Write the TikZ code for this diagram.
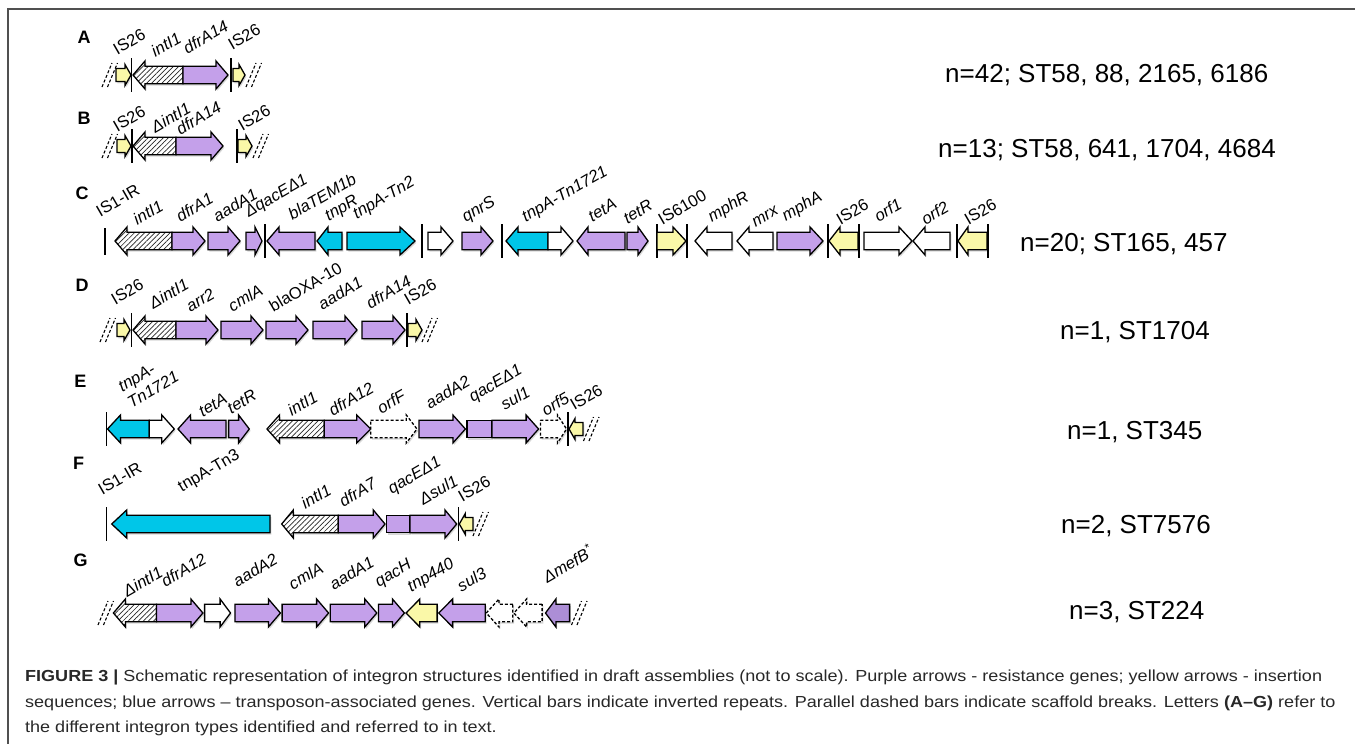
\documentclass[tikz,border=0pt]{standalone}
\usepackage{fontspec}
\setmainfont{Liberation Sans}
\usepackage{graphicx}
\usetikzlibrary{patterns.meta,shadows}

\definecolor{gpurple}{RGB}{196,160,234}
\definecolor{gdpurple}{RGB}{172,142,214}
\definecolor{gcyan}{RGB}{0,198,232}
\definecolor{gyellow}{RGB}{250,248,168}
\definecolor{framegray}{RGB}{80,80,80}
\definecolor{capgray}{RGB}{40,40,40}

\newcommand{\gsh}{8.8}
\newcommand{\ghh}{14}
% right-pointing gene arrow: start, tip, y, head length, style
\newcommand{\geneR}[5]{\draw[gene,#5] (#1,{#3-\gsh}) -- ({#2-#4},{#3-\gsh}) -- ({#2-#4},{#3-\ghh}) -- (#2,#3) -- ({#2-#4},{#3+\ghh}) -- ({#2-#4},{#3+\gsh}) -- (#1,{#3+\gsh}) -- cycle;}
% left-pointing gene arrow: tip, end, y, head length, style
\newcommand{\geneL}[5]{\draw[gene,#5] (#2,{#3-\gsh}) -- ({#1+#4},{#3-\gsh}) -- ({#1+#4},{#3-\ghh}) -- (#1,#3) -- ({#1+#4},{#3+\ghh}) -- ({#1+#4},{#3+\gsh}) -- (#2,{#3+\gsh}) -- cycle;}
\newcommand{\genebox}[4]{\draw[gene,#4] (#1,{#3-\gsh}) rectangle (#2,{#3+\gsh});}
% small insertion-sequence arrows
\newcommand{\gisR}[3]{\draw[gene,fill=gyellow] (#1,{#3-6.5}) -- ({#2-6},{#3-6.5}) -- ({#2-6},{#3-10.5}) -- (#2,#3) -- ({#2-6},{#3+10.5}) -- ({#2-6},{#3+6.5}) -- (#1,{#3+6.5}) -- cycle;}
\newcommand{\gisL}[3]{\draw[gene,fill=gyellow] (#2,{#3-6.5}) -- ({#1+6},{#3-6.5}) -- ({#1+6},{#3-10.5}) -- (#1,#3) -- ({#1+6},{#3+10.5}) -- ({#1+6},{#3+6.5}) -- (#2,{#3+6.5}) -- cycle;}
% inverted repeat bar
\newcommand{\girb}[2]{\draw[irbar] (#1,{#2-17}) -- (#1,{#2+17});}
% scaffold break
\newcommand{\gbrk}[2]{\draw[brkline] (#1,{#2+12}) -- ({#1+10},{#2-12}); \draw[brkline] ({#1+5.5},{#2+12}) -- ({#1+15.5},{#2-12});}
% labels
\newcommand{\glab}[4]{\node[glabel] (#1) at (#2,{#3-2.5}) {#4};}
\newcommand{\glabr}[4]{\node[glabel,font=\fontsize{16.5}{18.5}\selectfont] (#1) at (#2,{#3-2.5}) {#4};}

\newlength{\caplen}
\newcommand{\capfont}{\fontsize{16}{19}\selectfont}
\newcommand{\capone}{\textbf{FIGURE 3 |} Schematic representation of integron structures identified in draft assemblies (not to scale). Purple arrows - resistance genes; yellow arrows - insertion}

\begin{document}
\settowidth{\caplen}{\capfont\capone}
\pgfmathsetmacro{\capsx}{1297/\caplen}
\begin{tikzpicture}[x=1pt,y=-1pt,
  gene/.style={draw=black, line width=1.3pt, line join=miter,
    drop shadow={shadow xshift=1.3pt, shadow yshift=-1.8pt, opacity=0.22, fill=black!70}},
  hatch/.style={preaction={fill=white}, pattern={Lines[angle=45,distance=3.6pt,line width=0.7pt]}, pattern color=black!85},
  dashedgene/.style={fill=white, dash pattern=on 3pt off 2pt},
  irbar/.style={draw=black, line width=1.3pt},
  brkline/.style={draw=black, line width=1.1pt, dash pattern=on 3pt off 2pt},
  glabel/.style={anchor=south west, rotate=30, inner sep=0pt, font=\fontsize{16.5}{18.5}\selectfont\itshape},
  rowletter/.style={inner sep=0pt, font=\bfseries\fontsize{18}{20}\selectfont},
  stat/.style={anchor=base west, inner sep=0pt, font=\fontsize{26}{30}\selectfont},
  capline/.style={anchor=base west, inner sep=0pt, text=capgray}
]
\fill[white] (0,0) rectangle (1355,744);
\useasboundingbox (0,0) rectangle (1355,744);
\draw[framegray, line width=1.5pt] (1356,9) -- (8,9) -- (8,745);

% ---------------- Row A ----------------
\node[rowletter] (letA) at (84,37) {A};
\gbrk{102}{75}
\gisR{116}{131}{75}
\girb{131.7}{75}
\geneL{133}{183}{75}{12}{hatch}
\geneR{183}{228}{75}{12}{fill=gpurple}
\girb{231}{75}
\gisR{233}{245}{75}
\gbrk{246}{75}
\glabr{lA1}{117.5}{58}{IS26}
\glab{lA2}{155.5}{60}{intI1}
\glab{lA3}{187.5}{57}{dfrA14}
\glabr{lA4}{232.5}{53}{IS26}
\node[stat] (sA) at (945,82.3) {n=42; ST58, 88, 2165, 6186};

% ---------------- Row B ----------------
\node[rowletter] (letB) at (84,118) {B};
\gbrk{102}{146}
\gisR{117}{131}{146}
\girb{132}{146}
\geneL{133}{176}{146}{12}{hatch}
\geneR{176}{223}{146}{12}{fill=gpurple}
\girb{237}{146}
\gisR{238}{252}{146}
\gbrk{253}{146}
\glabr{lB1}{117.5}{135}{IS26}
\glab{lB2}{155.5}{136}{ΔintI1}
\glab{lB3}{180.5}{138}{dfrA14}
\glabr{lB4}{242.5}{134}{IS26}
\node[stat] (sB) at (938,157.3) {n=13; ST58, 641, 1704, 4684};

% ---------------- Row C ----------------
\node[rowletter] (letC) at (82,193) {C};
\draw[irbar] (105,228) -- (105,255);
\geneL{115}{172}{241}{12}{hatch}
\geneR{172}{205}{241}{12}{fill=gpurple}
\geneR{208}{240}{241}{12}{fill=gpurple}
\geneR{246}{262}{241}{7}{fill=gpurple}
\girb{265}{241}
\geneL{267}{315}{241}{12}{fill=gpurple}
\geneL{317}{342}{241}{11}{fill=gcyan}
\geneR{347}{415}{241}{15}{fill=gcyan}
\girb{422}{241}
\geneR{428}{453}{241}{12}{fill=white}
\geneR{462}{493}{241}{12}{fill=gpurple}
\girb{502}{241}
\geneL{506}{548}{241}{12}{fill=gcyan}
\geneR{548}{573}{241}{12}{fill=white}
\geneL{577}{625}{241}{11}{fill=gpurple}
\geneR{627}{648}{241}{10}{fill=gpurple}
\girb{657}{241}
\geneR{657}{686}{241}{13}{fill=gyellow}
\girb{687}{241}
\geneL{695}{732}{241}{12}{fill=white}
\geneL{737}{773}{241}{12}{fill=white}
\geneR{777}{823}{241}{13}{fill=gpurple}
\girb{828}{241}
\geneL{829}{858}{241}{11}{fill=gyellow}
\girb{859}{241}
\geneR{864}{912}{241}{13}{fill=white}
\geneL{913}{950}{241}{12}{fill=white}
\girb{957}{241}
\geneL{958}{987}{241}{10}{fill=gyellow}
\girb{988}{241}
\glabr{lC1}{100.5}{220}{IS1-IR}
\glab{lC2}{137.5}{228}{intI1}
\glab{lC3}{180.5}{225}{dfrA1}
\glab{lC4}{217.5}{225}{aadA1}
\glab{lC5}{250.5}{223}{ΔqacEΔ1}
\glab{lC6}{292.5}{223}{blaTEM1b}
\glab{lC7}{330.5}{227}{tnpR}
\glab{lC8}{358.5}{225}{tnpA-Tn2}
\glab{lC9}{467.5}{228}{qnrS}
\glab{lC10}{527.5}{228}{tnpA-Tn1721}
\glab{lC11}{592.5}{225}{tetA}
\glab{lC12}{627.5}{227}{tetR}
\glabr{lC13}{662.5}{228}{IS6100}
\glab{lC14}{713.5}{228}{mphR}
\glab{lC15}{755.5}{230}{mrx}
\glab{lC16}{787.5}{227}{mphA}
\glabr{lC17}{840.5}{228}{IS26}
\glab{lC18}{878.5}{225}{orf1}
\glab{lC19}{925.5}{228}{orf2}
\glabr{lC20}{968.5}{228}{IS26}
\node[stat] (sC) at (1020,251.3) {n=20; ST165, 457};

% ---------------- Row D ----------------
\node[rowletter] (letD) at (82,285) {D};
\gbrk{100}{330}
\gisR{117}{130}{330}
\girb{131.7}{330}
\geneL{133}{176}{330}{12}{hatch}
\geneR{176}{218}{330}{12}{fill=gpurple}
\geneR{221}{263}{330}{12}{fill=gpurple}
\geneR{266}{308}{330}{12}{fill=gpurple}
\geneR{313}{357}{330}{12}{fill=gpurple}
\geneR{362}{405}{330}{12}{fill=gpurple}
\girb{407}{330}
\gisR{408}{422}{330}
\gbrk{422}{330}
\glabr{lD1}{115.5}{308}{IS26}
\glab{lD2}{153.5}{312}{ΔintI1}
\glab{lD3}{190.5}{315}{arr2}
\glab{lD4}{232.5}{315}{cmlA}
\glabr{lD5}{273.5}{315}{blaOXA-10}
\glab{lD6}{322.5}{313}{aadA1}
\glab{lD7}{370.5}{312}{dfrA14}
\glabr{lD8}{408.5}{308}{IS26}
\node[stat] (sD) at (1060,339.3) {n=1, ST1704};

% ---------------- Row E ----------------
\node[rowletter] (letE) at (80.5,381.5) {E};
\girb{106.4}{429}
\geneL{107.5}{149.3}{429}{13}{fill=gcyan}
\geneR{149.3}{174.3}{429}{12.5}{fill=white}
\geneL{178}{226}{429}{12.5}{fill=gpurple}
\geneR{228.6}{249.3}{429}{10.7}{fill=gpurple}
\geneL{267}{324.3}{429}{12.5}{hatch}
\geneR{324.3}{370.7}{429}{14}{fill=gpurple}
\geneR{370.7}{417}{429}{10.7}{dashedgene}
\geneR{419}{465.4}{429}{12.5}{fill=gpurple}
\genebox{467}{492}{429}{fill=gpurple}
\geneR{492}{538.6}{429}{12.5}{fill=gpurple}
\geneR{540.4}{566.5}{429}{9}{dashedgene}
\girb{568}{429}
\gisL{569}{583}{429}
\gbrk{583.5}{429}
\node[glabel, align=left] (lE1) at (131.5,408.5) {tnpA-\\Tn1721};
\glab{lE2}{203}{420}{tetA}
\glab{lE3}{231.5}{417}{tetR}
\glab{lE4}{292}{419}{intI1}
\glab{lE5}{333}{419}{dfrA12}
\glab{lE6}{381.5}{417}{orfF}
\glab{lE7}{430}{412}{aadA2}
\glab{lE8}{474.5}{408}{qacEΔ1}
\glab{lE9}{505}{413.6}{sul1}
\glab{lE10}{546}{419}{orf5}
\glabr{lE11}{574.5}{413.6}{IS26}
\node[stat] (sE) at (1067,439.3) {n=1, ST345};

% ---------------- Row F ----------------
\node[rowletter] (letF) at (78.5,463) {F};
\girb{106.7}{524}
\geneL{111.7}{270}{524}{15}{fill=gcyan}
\geneL{281.7}{338.3}{524}{11.6}{hatch}
\geneR{338.3}{385}{524}{11.7}{fill=gpurple}
\genebox{386.7}{410}{524}{fill=gpurple}
\geneR{410}{456.7}{524}{11.7}{fill=gpurple}
\girb{458.3}{524}
\gisL{459.3}{473}{524}
\gbrk{473}{524}
\glabr{lF1}{102.5}{498}{IS1-IR}
\glabr{lF2}{183.5}{498}{tnpA-Tn3}
\glab{lF3}{305.5}{512}{intI1}
\glab{lF4}{343.5}{510}{dfrA7}
\glab{lF5}{393.5}{500}{qacEΔ1}
\glab{lF6}{423.5}{508}{Δsul1}
\glabr{lF7}{462.5}{505}{IS26}
\node[stat] (sF) at (1061,533.3) {n=2, ST7576};

% ---------------- Row G ----------------
\node[rowletter] (letG) at (80.5,560.5) {G};
\gbrk{98}{613}
\geneL{113.4}{156.4}{613}{12}{hatch}
\geneR{156.4}{202.9}{613}{12}{fill=gpurple}
\geneR{204.6}{230.5}{613}{10.4}{fill=white}
\geneR{234.9}{280.4}{613}{12}{fill=gpurple}
\geneR{282.1}{328.6}{613}{12}{fill=gpurple}
\geneR{330.3}{376.8}{613}{12}{fill=gpurple}
\geneR{378.5}{404.4}{613}{12}{fill=gpurple}
\geneL{406.1}{437.1}{613}{13.7}{fill=gyellow}
\geneL{438.8}{485.3}{613}{13.8}{fill=gpurple}
\geneL{486.3}{512.8}{613}{12.7}{dashedgene}
\geneL{513.9}{542.1}{613}{12.7}{dashedgene}
\geneL{545.5}{569.6}{613}{10.4}{fill=gdpurple}
\gbrk{571.5}{613}
\glab{lG1}{127.5}{600}{ΔintI1}
\glab{lG2}{165.5}{590}{dfrA12}
\glab{lG3}{237.5}{590}{aadA2}
\glab{lG4}{293}{593}{cmlA}
\glab{lG5}{334}{593}{aadA1}
\glab{lG6}{380.5}{593}{qacH}
\glab{lG7}{413}{598}{tnp440}
\glab{lG8}{461.5}{595}{sul3}
\glab{lG9}{547.5}{586}{ΔmefB\textsuperscript{*}}
\node[stat] (sG) at (1069,619.3) {n=3, ST224};

% ---------------- Caption ----------------
\node[capline] (cap1) at (25,681) {\scalebox{\capsx}[1]{\capfont\capone}};
\node[capline] (cap2) at (25,707) {\scalebox{\capsx}[1]{\capfont sequences; blue arrows – transposon-associated genes. Vertical bars indicate inverted repeats. Parallel dashed bars indicate scaffold breaks. Letters \textbf{(A–G)} refer to}};
\node[capline] (cap3) at (25,732) {\scalebox{\capsx}[1]{\capfont the different integron types identified and referred to in text.}};
\end{tikzpicture}
\end{document}
